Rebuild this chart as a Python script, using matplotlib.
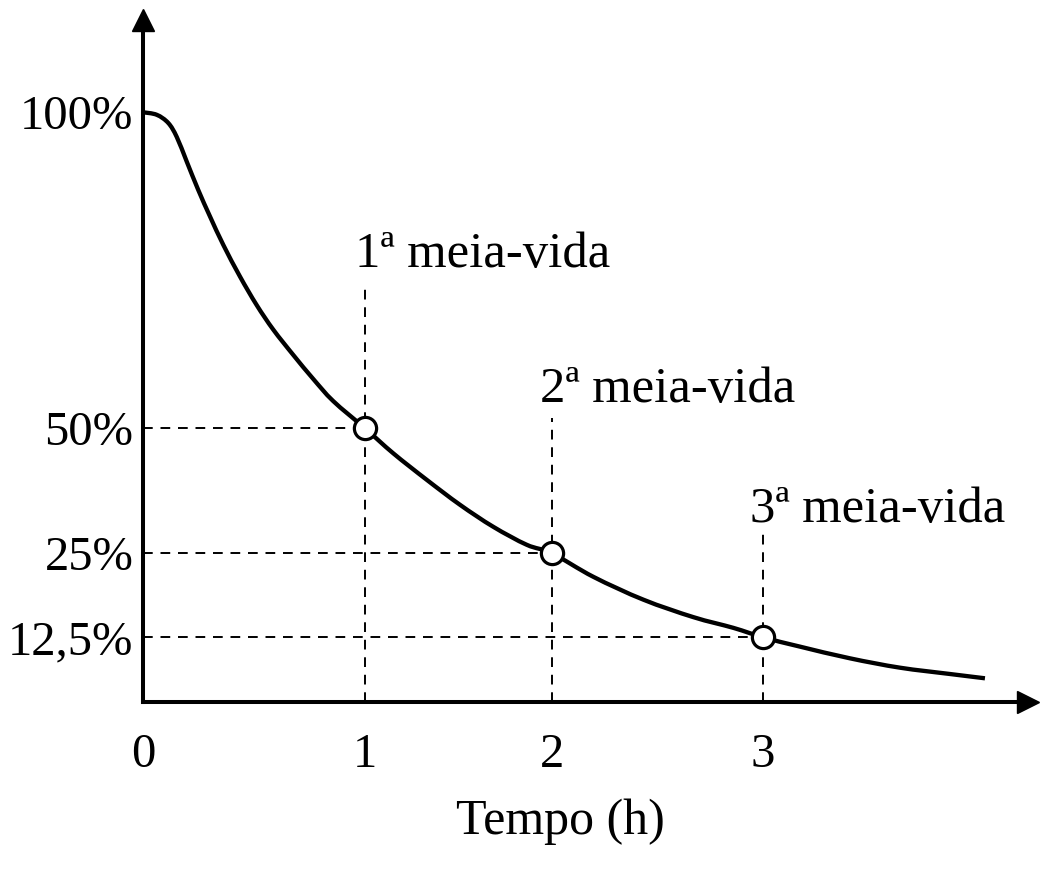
import numpy as np
import matplotlib.pyplot as plt
from matplotlib.path import Path
from matplotlib.patches import PathPatch

# curva de decaimento (tempo em h, % restante)
tempo = [0, 0.062, 0.114, 0.152, 0.197, 0.249, 0.302, 0.362, 0.437, 0.512, 0.587,
         0.677, 0.767, 0.857, 1.0, 1.151, 1.330, 1.508, 1.686, 1.865, 2.0,
         2.196, 2.433, 2.670, 2.860, 3.0, 3.175, 3.412, 3.649, 3.886, 4.052]
restante = [100, 99.6, 98.3, 96.1, 92.2, 87.7, 83.5, 79.0, 74.0, 69.5, 65.6,
            61.6, 57.8, 54.3, 50.0, 45.0, 39.7, 34.7, 30.3, 26.7, 25.0,
            21.5, 18.1, 15.5, 13.9, 12.5, 10.7, 8.44, 6.63, 5.41, 4.58]

meias_vidas = [1, 2, 3]
pct_meia_vida = [50, 25, 12.5]
rotulos = ["1ª meia-vida", "2ª meia-vida", "3ª meia-vida"]

x_ticks = [0, 1, 2, 3]
x_ticklabels = ["0", "1", "2", "3"]
y_ticks = [100, 50, 25, 12.5]
y_ticklabels = ["100%", "50%", "25%", "12,5%"]

# o desenho original não tem espaçamento uniforme: escala linear por trechos
x_val = [0, 1, 2, 3, 5]
x_esc = [0, 222, 409, 620, 1042]
y_val = [0, 12.5, 25, 50, 100, 130]
y_esc = [0, 64.7, 148.7, 273.7, 589.7, 779.3]


def fx(v):
    return np.interp(v, x_val, x_esc)


def fx_inv(v):
    return np.interp(v, x_esc, x_val)


def fy(v):
    return np.interp(v, y_val, y_esc)


def fy_inv(v):
    return np.interp(v, y_esc, y_val)


plt.rcParams['font.family'] = ['Liberation Serif', 'DejaVu Serif']

fig = plt.figure(figsize=(10.64, 8.76), dpi=100)
ax = fig.add_axes([143/1064, 174/876, 885/1064, 682/876])
ax.set_xscale("function", functions=(fx, fx_inv))
ax.set_yscale("function", functions=(fy, fy_inv))
ax.set_xlim(0, 4.256)
ax.set_ylim(0, 114.6)

for s in ["top", "right"]:
    ax.spines[s].set_visible(False)
for s in ["left", "bottom"]:
    ax.spines[s].set_linewidth(2.9)

# setas dos eixos
ax.plot([1], [0], marker=">", ms=16, color="k", transform=ax.transAxes, clip_on=False)
ax.plot([0], [1], marker="^", ms=16, color="k", transform=ax.transAxes, clip_on=False)

# linhas tracejadas e rótulos
topo_tracejado = [73.1, 51.7, 28.8]
rotulo_x = [0.955, 1.936, 2.938]
rotulo_y = [75.5, 54.1, 31.2]
for t, p, top in zip(meias_vidas, pct_meia_vida, topo_tracejado):
    ax.plot([0, t], [p, p], color="k", lw=1.4, ls=(0, (5, 4)))
    ax.plot([t, t], [0, top], color="k", lw=1.4, ls=(0, (5, 4)))
for r, xr, yr in zip(rotulos, rotulo_x, rotulo_y):
    ax.text(xr, yr, r, fontsize=36.5, ha="left", va="baseline")

# curva suave pelos pontos lidos (Catmull-Rom na escala do desenho)
px = fx(np.array(tempo))
py = fy(np.array(restante))
n = len(px)
verts = [(tempo[0], restante[0])]
codes = [Path.MOVETO]
for i in range(n - 1):
    i0, i3 = max(i - 1, 0), min(i + 2, n - 1)
    c1x = px[i] + (px[i + 1] - px[i0]) / 6
    c1y = py[i] + (py[i + 1] - py[i0]) / 6
    c2x = px[i + 1] - (px[i3] - px[i]) / 6
    c2y = py[i + 1] - (py[i3] - py[i]) / 6
    verts += [(fx_inv(c1x), fy_inv(c1y)), (fx_inv(c2x), fy_inv(c2y)),
              (tempo[i + 1], restante[i + 1])]
    codes += [Path.CURVE4] * 3
ax.add_patch(PathPatch(Path(verts, codes), fill=False, edgecolor="k", lw=3.1,
                       capstyle="butt", clip_on=False))

ax.plot(meias_vidas, pct_meia_vida, "o", ms=16, mfc="white", mec="k", mew=2.3, zorder=5)

ax.set_xticks(x_ticks)
ax.set_xticklabels(x_ticklabels)
ax.set_yticks(y_ticks)
ax.set_yticklabels(y_ticklabels)
ax.minorticks_off()
ax.tick_params(axis="both", which="both", length=0, labelsize=35)
ax.tick_params(axis="x", pad=22)
ax.tick_params(axis="y", pad=7)

ax.set_xlabel("Tempo (h)", fontsize=36, va="top")
ax.xaxis.set_label_coords((560 - 143) / 885, -0.142)

fig.savefig("out.png", dpi=100)
